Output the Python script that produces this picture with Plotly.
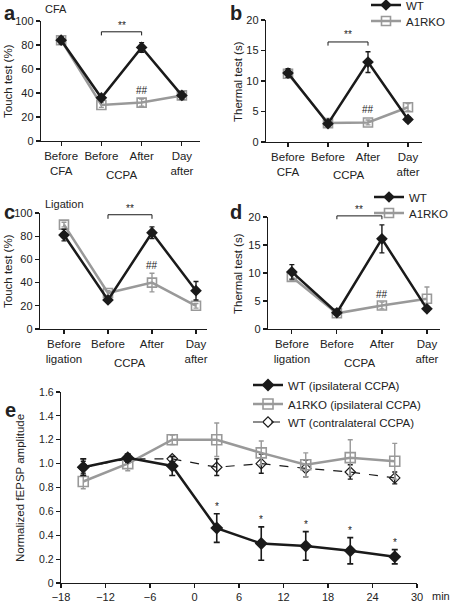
import plotly.graph_objects as go

W, H = 450, 601
FONT = "Liberation Sans"
BLACK = "#1a1a1a"
GRAY = "#999999"

# ---------------- data ----------------
cats_cfa = ["Before<br>CFA", "Before", "After", "Day<br>after"]
cats_lig = ["Before<br>ligation", "Before", "After", "Day<br>after"]

a_wt = [84, 36, 78, 38]
a_wt_err = [3, 2, 4, 3]
a_ko = [84, 30, 32, 38]
a_ko_err = [2, 2, 3, 4]

b_wt = [11.3, 3.0, 13.1, 3.7]
b_wt_err = [0.7, 0.3, 1.7, 0.4]
b_ko = [11.2, 3.1, 3.2, 5.7]
b_ko_err = [0.6, 0.3, 0.4, 0.6]

c_wt = [81, 25, 83, 33]
c_wt_err = [5, 2, 5, 8]
c_ko = [90, 31, 40, 20]
c_ko_err = [2, 2, 8, 2]

d_wt = [10.2, 2.9, 16.1, 3.6]
d_wt_err = [1.3, 0.3, 2.5, 0.4]
d_ko = [9.3, 2.8, 4.2, 5.4]
d_ko_err = [0.6, 0.3, 0.6, 2.1]

e_time = [-15, -9, -3, 3, 9, 15, 21, 27]
e_wt_ipsi = [0.97, 1.05, 0.98, 0.46, 0.33, 0.31, 0.27, 0.22]
e_wt_ipsi_err = [0.07, 0.03, 0.08, 0.12, 0.14, 0.12, 0.11, 0.06]
e_ko_ipsi = [0.85, 1.00, 1.20, 1.20, 1.09, 0.99, 1.05, 1.02]
e_ko_ipsi_err = [0.06, 0.06, 0.04, 0.14, 0.10, 0.10, 0.15, 0.15]
e_wt_contra = [0.97, 1.04, 1.04, 0.97, 1.00, 0.96, 0.93, 0.88]
e_wt_contra_err = [0.05, 0.03, 0.02, 0.07, 0.08, 0.07, 0.06, 0.05]

e_xticks = [-18, -12, -6, 0, 6, 12, 18, 24, 30]
e_xticktext = ["\u221218", "\u221212", "\u22126", "0", "6", "12", "18", "24", "30"]
e_yticks = [0, 0.2, 0.4, 0.6, 0.8, 1.0, 1.2, 1.4, 1.6]
e_yticktext = ["0", "0.2", "0.4", "0.6", "0.8", "1.0", "1.2", "1.4", "1.6"]

touch_ticks = [0, 20, 40, 60, 80, 100]
thermal_ticks = [0, 5, 10, 15, 20]


def px(x):
    return x / W


def py(y):
    return 1 - y / H


fig = go.Figure()

axis_common = dict(showline=True, linecolor=BLACK, linewidth=1.2, ticks="outside",
                   ticklen=4, tickwidth=1.2, tickcolor=BLACK, showgrid=False,
                   zeroline=False, automargin=False,
                   tickfont=dict(family=FONT, size=11, color="#222"))

panels = [
    # name, xaxis, yaxis, xdom px, ydom px, xrange, yrange, yticks, cats
    ("a", "x", "y", (41, 200), (21, 141), [-0.5, 3.45], [0, 100], touch_ticks, cats_cfa),
    ("b", "x2", "y2", (266, 422), (20, 142), [-0.55, 3.35], [0, 20], thermal_ticks, cats_cfa),
    ("c", "x3", "y3", (40, 207), (213, 329), [-0.545, 3.25], [0, 100], touch_ticks, cats_lig),
    ("d", "x4", "y4", (268, 440), (217, 329), [-0.53, 3.29], [0, 20], thermal_ticks, cats_lig),
]
ymaps = {}

data_map = {
    "a": (a_wt, a_wt_err, a_ko, a_ko_err),
    "b": (b_wt, b_wt_err, b_ko, b_ko_err),
    "c": (c_wt, c_wt_err, c_ko, c_ko_err),
    "d": (d_wt, d_wt_err, d_ko, d_ko_err),
}
# one legend box per entry, so each can be placed exactly
legend_map = {"b": ("legend", "legend2"), "d": ("legend3", "legend4")}

layout_axes = {}
for name, xa, ya, xd, yd, xr, yr, yt, cats in panels:
    wt, wte, ko, koe = data_map[name]
    xs = list(range(len(cats)))
    show = name in legend_map
    leg_wt, leg_ko = legend_map.get(name, ("legend", "legend"))
    fig.add_trace(go.Scatter(
        x=xs, y=ko, xaxis=xa, yaxis=ya, mode="lines+markers", name="A1RKO",
        line=dict(color=GRAY, width=2.5),
        marker=dict(symbol="square-open", size=9, color=GRAY, line=dict(width=1.6, color=GRAY)),
        error_y=dict(type="data", array=koe, color=GRAY, thickness=1.4, width=2.5),
        showlegend=show, legend=leg_ko, cliponaxis=False, hoverinfo="skip"))
    fig.add_trace(go.Scatter(
        x=xs, y=wt, xaxis=xa, yaxis=ya, mode="lines+markers", name="WT",
        line=dict(color=BLACK, width=2.5),
        marker=dict(symbol="diamond", size=9, color=BLACK),
        error_y=dict(type="data", array=wte, color=BLACK, thickness=1.4, width=2.5),
        showlegend=show, legend=leg_wt, cliponaxis=False, hoverinfo="skip"))
    xkey = "xaxis" if xa == "x" else "xaxis" + xa[1:]
    ykey = "yaxis" if ya == "y" else "yaxis" + ya[1:]
    layout_axes[xkey] = dict(axis_common, domain=[px(xd[0]), px(xd[1])], range=xr,
                             tickvals=xs, ticktext=cats, anchor=ya,
                             tickfont=dict(family=FONT, size=11.5, color="#222"))
    layout_axes[ykey] = dict(axis_common, domain=[py(yd[1]), py(yd[0])], range=yr,
                             tickvals=yt, anchor=xa)
    # data -> paper mapping for this panel's y axis
    ymaps[xa] = (lambda v, yd=yd, yr=yr:
                 py(yd[1]) + (v - yr[0]) / (yr[1] - yr[0]) * (py(yd[0]) - py(yd[1])))

# panel e
fig.add_trace(go.Scatter(
    x=e_time, y=e_wt_contra, xaxis="x5", yaxis="y5", mode="lines+markers",
    name="WT (contralateral CCPA)",
    line=dict(color=BLACK, width=1.2, dash="dash"),
    marker=dict(symbol="diamond-open", size=8, color=BLACK, line=dict(width=1.2, color=BLACK)),
    error_y=dict(type="data", array=e_wt_contra_err, color=BLACK, thickness=1.4, width=2.5),
    legend="legend7", cliponaxis=False, hoverinfo="skip"))
fig.add_trace(go.Scatter(
    x=e_time, y=e_ko_ipsi, xaxis="x5", yaxis="y5", mode="lines+markers",
    name="A1RKO (ipsilateral CCPA)",
    line=dict(color=GRAY, width=2.5),
    marker=dict(symbol="square-open", size=10, color=GRAY, line=dict(width=1.6, color=GRAY)),
    error_y=dict(type="data", array=e_ko_ipsi_err, color=GRAY, thickness=1.4, width=2.5),
    legend="legend6", cliponaxis=False, hoverinfo="skip"))
fig.add_trace(go.Scatter(
    x=e_time, y=e_wt_ipsi, xaxis="x5", yaxis="y5", mode="lines+markers",
    name="WT (ipsilateral CCPA)",
    line=dict(color=BLACK, width=2.5),
    marker=dict(symbol="diamond", size=10, color=BLACK),
    error_y=dict(type="data", array=e_wt_ipsi_err, color=BLACK, thickness=1.6, width=3),
    legend="legend5", cliponaxis=False, hoverinfo="skip"))

layout_axes["xaxis5"] = dict(axis_common, domain=[px(61), px(417)], range=[-18, 30],
                             tickvals=e_xticks, ticktext=e_xticktext, anchor="y5")
layout_axes["yaxis5"] = dict(axis_common, domain=[py(583), py(392)], range=[0, 1.6],
                             tickvals=e_yticks, ticktext=e_yticktext, anchor="x5",
                             tickfont=dict(family=FONT, size=10.5, color="#222"))

annotations = []
shapes = []


def txt(x, y, s, size=11, bold=False, xanchor="center", yanchor="middle", angle=0, xref="paper", yref="paper"):
    annotations.append(dict(x=x, y=y, xref=xref, yref=yref, text=("<b>%s</b>" % s) if bold else s,
                            showarrow=False, xanchor=xanchor, yanchor=yanchor, textangle=angle,
                            font=dict(family=FONT, size=size, color="#222")))


# panel letters
txt(px(2), py(13), "a", size=20, bold=True, xanchor="left")
txt(px(228), py(13), "b", size=20, bold=True, xanchor="left")
txt(px(2), py(212), "c", size=20, bold=True, xanchor="left")
txt(px(228), py(212), "d", size=20, bold=True, xanchor="left")
txt(px(3), py(410), "e", size=20, bold=True, xanchor="left")

# subtitles
txt(px(43), py(9), "CFA", size=11, xanchor="left")
txt(px(43), py(204), "Ligation", size=11, xanchor="left")

# y titles
txt(px(8), py(81), "Touch test (%)", size=11.5, angle=-90)
txt(px(238), py(81), "Thermal test (s)", size=11.5, angle=-90)
txt(px(8), py(271), "Touch test (%)", size=11.5, angle=-90)
txt(px(238), py(273), "Thermal test (s)", size=11.5, angle=-90)
txt(px(20), py(488), "Normalized fEPSP amplitude", size=11.5, angle=-90)

# CCPA group labels
txt(1.5, py(175), "CCPA", size=11.5, xref="x", yref="paper")
txt(1.5, py(175), "CCPA", size=11.5, xref="x2", yref="paper")
txt(1.5, py(363), "CCPA", size=11.5, xref="x3", yref="paper")
txt(1.5, py(363), "CCPA", size=11.5, xref="x4", yref="paper")

# "min" unit
txt(px(430), py(596), "min", size=11, xanchor="left")

# significance brackets (y in data units, converted to paper so nothing is clipped)
brackets = [("x", 91, 88, 96.5), ("x2", 16.4, 15.8, 17.6),
            ("x3", 98.5, 95, 104), ("x4", 20.2, 19.6, 21.4)]
for xa, top, foot, star in brackets:
    f = ymaps[xa]
    for x0, y0, x1, y1 in [(1, top, 2, top), (1, top, 1, foot), (2, top, 2, foot)]:
        shapes.append(dict(type="line", xref=xa, yref="paper", x0=x0, y0=f(y0), x1=x1, y1=f(y1),
                           line=dict(color=BLACK, width=1)))
    txt(1.5, f(star), "**", size=10, xref=xa, yref="paper")

# ## marks over A1RKO "After"
hash_pos = [("x", 42), ("x2", 5.3), ("x3", 55), ("x4", 6.1)]
for xa, yv in hash_pos:
    txt(2, ymaps[xa](yv), "##", size=10, xref=xa, yref="paper")

# asterisks in panel e
for t, v, e in zip(e_time[3:], e_wt_ipsi[3:], e_wt_ipsi_err[3:]):
    txt(t, v + e + 0.06, "*", size=10, xref="x5", yref="y5")

legend_common = dict(font=dict(family=FONT, size=11.5, color="#222"), bgcolor="rgba(0,0,0,0)",
                     borderwidth=0, itemwidth=30, xanchor="left", yanchor="middle")

fig.update_layout(
    width=W, height=H, margin=dict(l=0, r=0, t=0, b=0, autoexpand=False),
    paper_bgcolor="white", plot_bgcolor="white",
    font=dict(family=FONT, size=11, color="#222"),
    annotations=annotations, shapes=shapes, hovermode=False,
    legend=dict(legend_common, x=px(366), y=py(5)),
    legend2=dict(legend_common, x=px(366), y=py(21)),
    legend3=dict(legend_common, x=px(369), y=py(197)),
    legend4=dict(legend_common, x=px(369), y=py(213)),
    legend5=dict(legend_common, x=px(248), y=py(385)),
    legend6=dict(legend_common, x=px(248), y=py(404)),
    legend7=dict(legend_common, x=px(248), y=py(422)),
    **layout_axes,
)

fig.write_html("out.html", config={"displayModeBar": False, "staticPlot": True},
               post_script="document.body.style.margin='0';")
